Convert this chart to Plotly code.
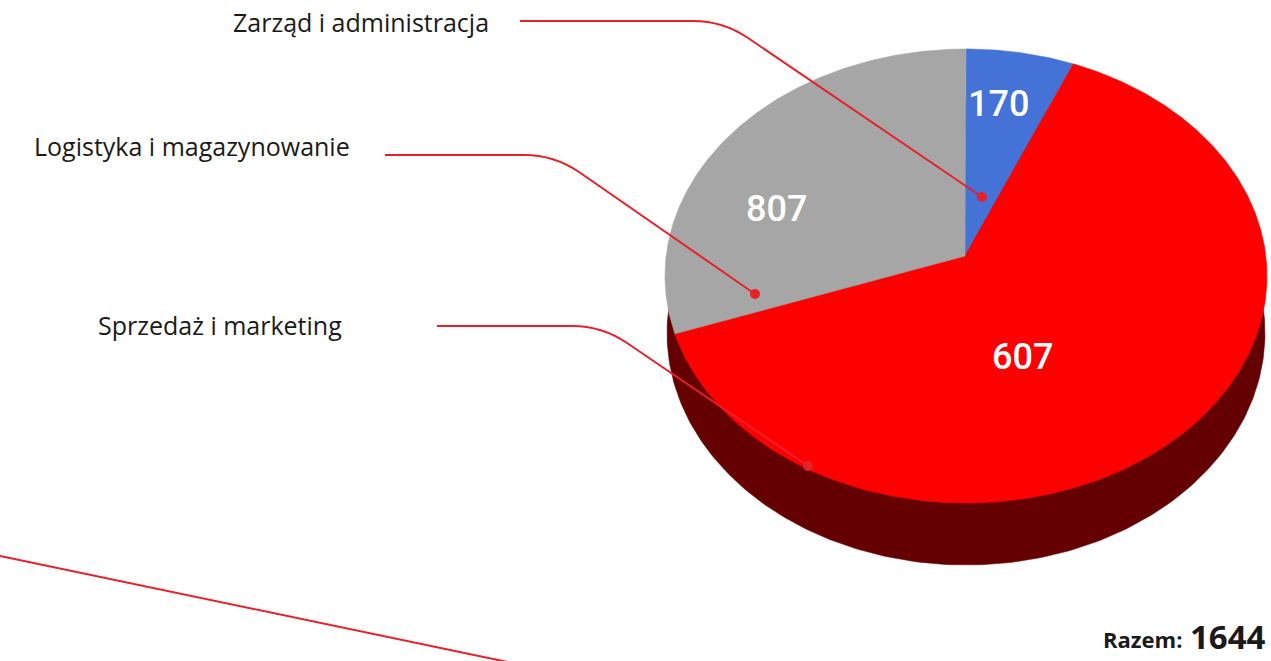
import math
import plotly.graph_objects as go

# ---------------- data ----------------
categories = ["Zarząd i administracja", "Sprzedaż i marketing", "Logistyka i magazynowanie"]
counts = [170, 607, 807]                 # numbers printed on the slices
slice_share_pct = [5.8, 65.1, 29.1]      # angular size of each slice as drawn in the picture
total_label = 1644
colors = ["#4472D6", "#FF0000", "#A6A6A6"]

# ---------------- geometry / style ----------------
W, H = 1271, 661
CX, CY, RX, RY = 966, 276, 301, 227      # top face ellipse (pixel space)
APEX = (965, 256)                        # perspective centre of the top face
BCX, BCY, BRX, BRY = 966, 333, 299, 232  # bottom face ellipse
SIDE_COLOR = "#650000"
LINE_COLOR = "#E8202A"
LABEL_FONT = "Open Sans"

label_pos = {  # right edge x, centre y of the category labels
    "Zarząd i administracja": (491, 22),
    "Logistyka i magazynowanie": (352, 146),
    "Sprzedaż i marketing": (344, 325),
}
leader_paths = {
    "Zarząd i administracja": ((520, 21), (693, 21), (723, 21), (748, 38), (982, 197)),
    "Logistyka i magazynowanie": ((385, 155), (524, 155), (554, 155), (579, 172), (755, 294)),
    "Sprzedaż i marketing": ((437, 326), (572, 326), (602, 326), (627, 343), (808, 466)),
}
value_pos = [(998, 104), (1022, 357), (776, 209)]


def ell(cx, cy, rx, ry, t):
    return cx + rx * math.sin(t), cy - ry * math.cos(t)


fig = go.Figure()

# side (depth) of the pie
xs, ys = [], []
for i in range(361):
    x, y = ell(BCX, BCY, BRX, BRY, math.radians(i))
    xs.append(x)
    ys.append(y)
fig.add_trace(go.Scatter(x=xs, y=ys, fill="toself", fillcolor=SIDE_COLOR, mode="lines",
                         line=dict(width=0.5, color=SIDE_COLOR), hoverinfo="skip", showlegend=False))

# top face slices
start = 0.0
tot = sum(slice_share_pct)
for name, share, col in zip(categories, slice_share_pct, colors):
    a0 = start
    a1 = start + 360.0 * share / tot
    n = max(2, int((a1 - a0) * 2))
    xs, ys = [APEX[0]], [APEX[1]]
    for k in range(n + 1):
        t = math.radians(a0 + (a1 - a0) * k / n)
        x, y = ell(CX, CY, RX, RY, t)
        xs.append(x)
        ys.append(y)
    xs.append(APEX[0])
    ys.append(APEX[1])
    fig.add_trace(go.Scatter(x=xs, y=ys, fill="toself", fillcolor=col, mode="lines",
                             line=dict(width=0.6, color=col), name=name, hoverinfo="name",
                             showlegend=False))
    start = a1

annotations = []
shapes = []

# value labels
for (vx, vy), v in zip(value_pos, counts):
    annotations.append(dict(x=vx, y=vy, xref="x", yref="y", text=str(v), showarrow=False,
                            xanchor="center", yanchor="middle",
                            font=dict(family="Roboto", size=36, color="white", weight=500)))

# category labels and leader lines
for name in categories:
    lx, ly = label_pos[name]
    annotations.append(dict(x=lx, y=ly, xref="x", yref="y", text=name, showarrow=False,
                            xanchor="right", yanchor="middle",
                            font=dict(family=LABEL_FONT, size=25, color="#1a1a1a")))
    p0, p1, pc, p2, p3 = leader_paths[name]
    path = (f"M {p0[0]},{p0[1]} L {p1[0]},{p1[1]} Q {pc[0]},{pc[1]} {p2[0]},{p2[1]} "
            f"L {p3[0]},{p3[1]}")
    shapes.append(dict(type="path", path=path, xref="x", yref="y",
                       line=dict(color=LINE_COLOR, width=2)))
    r = 5
    shapes.append(dict(type="circle", xref="x", yref="y", x0=p3[0] - r, x1=p3[0] + r,
                       y0=p3[1] - r, y1=p3[1] + r, fillcolor=LINE_COLOR,
                       line=dict(width=0)))

# decorative line at bottom-left
shapes.append(dict(type="line", xref="x", yref="y", x0=0, y0=556, x1=520, y1=664.6,
                   line=dict(color=LINE_COLOR, width=2)))

# total
annotations.append(dict(x=1268, y=661, xref="x", yref="y", text=f"<b>{total_label}</b>",
                        showarrow=False, xanchor="right", yanchor="bottom",
                        font=dict(family=LABEL_FONT, size=33, color="#1a1a1a")))
annotations.append(dict(x=1184, y=656, xref="x", yref="y", text="<b>Razem:</b>",
                        showarrow=False, xanchor="right", yanchor="bottom",
                        font=dict(family=LABEL_FONT, size=22, color="#1a1a1a")))

fig.update_layout(
    width=W, height=H, margin=dict(l=0, r=0, t=0, b=0),
    paper_bgcolor="white", plot_bgcolor="white",
    xaxis=dict(range=[0, W], visible=False, fixedrange=True),
    yaxis=dict(range=[H, 0], visible=False, fixedrange=True),
    annotations=annotations, shapes=shapes, showlegend=False,
)

fig.write_html("out.html", config={"displayModeBar": False},
               post_script="document.body.style.margin='0';document.body.style.overflow='hidden';")
